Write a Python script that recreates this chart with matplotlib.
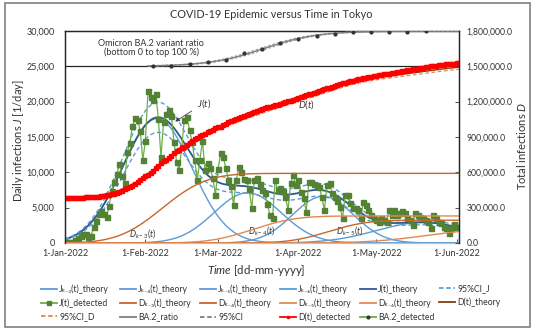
import numpy as np
import pandas as pd
import matplotlib
matplotlib.use("Agg")
import matplotlib.pyplot as plt
import matplotlib.dates as mdates
from matplotlib.lines import Line2D
from matplotlib.patches import Rectangle
from matplotlib.ticker import FuncFormatter, MultipleLocator
from math import erf, sqrt, pi

plt.rcParams['font.family'] = ['Lato', 'DejaVu Sans']
plt.rcParams['mathtext.fontset'] = 'custom'
plt.rcParams['mathtext.rm'] = 'Lato'
plt.rcParams['mathtext.it'] = 'Lato:italic'

# daily detected infections in Tokyo, from 1 Jan 2022
j_detected = [
    79, 84, 103, 151, 390, 641, 922, 1224, 1223, 871, 962, 2198, 3124, 4051, 4561, 4172,
    3709, 5185, 7377, 8638, 9699, 11227, 9468, 8503, 12813, 14086, 16538, 17631, 17433, 15895, 11751,
    14445, 21576, 20679, 20262, 21120, 17526, 12214, 17113, 18287, 18891, 18000, 14330, 11500, 10330,
    13620, 17400, 17870, 16000, 14330, 11700, 8900, 11700, 14470, 10320, 11270, 10560, 9200, 6800,
    10500, 12680, 12200, 10600, 8900, 8000, 5370, 8900, 10700, 10080, 9000, 8900, 7600, 4900,
    8900, 9150, 8300, 7500, 7030, 5500, 3960, 3490, 8900, 7500, 7800, 7300, 6500, 4670, 8440,
    9610, 8200, 8900,
    7260, 6400, 4430, 8670, 8700, 8300, 8200, 7960, 6500, 4670, 8200, 8440, 7030, 6500, 6000,
    5130, 3490, 6790, 6790, 5610, 5000, 4900, 4670, 3490, 5840, 5370, 4600, 3960, 3490, 3250,
    3020, 3490, 3250, 3000, 4670, 4000, 4670, 3960, 4200, 4500, 4200, 3490, 3300, 2545, 4200,
    4000, 3720, 3500, 3250, 3000, 2070, 3960, 3500, 3020, 2800, 2310, 2100, 1370, 2070, 2700,
    2310, 2300,
]
d_start = 384000   # total infections up to 31 Dec 2021
d_lag = 2          # days from detection to the cumulative count

# waves k-3 .. k-6: peak [1/day], day of peak (from 1 Jan), width [day]
wave_tags = ['k-3', 'k-4', 'k-5', 'k-6']
wave_sub = ['\u2096\u208b\u2083', '\u2096\u208b\u2084', '\u2096\u208b\u2085', '\u2096\u208b\u2086']
wave_peak = [17600, 7100, 6600, 2900]
wave_day = [35.5, 70.4, 99.5, 138.0]
wave_width = [13.4, 12.9, 11.7, 18.0]
ci_j = 0.12        # half width of 95%CI for J(t)
ci_d = 0.012       # half width of 95%CI for D(t)

# BA.2 share among sequenced samples, weekly
ba2_dates = pd.date_range('2022-02-04', periods=16, freq='7D')
ba2_ratio = [0.0, 0.0, 0.07, 0.11, 0.18, 0.38, 0.50, 0.67, 0.77, 0.87, 0.91, 0.96, 0.98, 0.98, 0.98, 1.0]
ba2_mid, ba2_scale, ba2_ci = 76.5, 10.3, 1.5
ba2_from = 32

t0 = pd.Timestamp('2022-01-01')
x_end = 151.9
days = pd.date_range(t0, periods=len(j_detected), freq='D')
cum = np.cumsum(j_detected)
d_detected = d_start + np.concatenate([np.zeros(d_lag), cum[:-d_lag]])

t = np.arange(0, 153.01, 0.25)
tt = t0 + pd.to_timedelta(t, unit='D')
cdf = np.vectorize(lambda z: 0.5 * (1.0 + erf(z / sqrt(2.0))))

j_k, d_k = [], []
d_theory = np.full_like(t, float(d_start))
for a, mu, s in zip(wave_peak, wave_day, wave_width):
    area = a * s * sqrt(2 * pi)
    j_k.append(a * np.exp(-0.5 * ((t - mu) / s) ** 2))
    d_k.append(area * cdf((t - mu - d_lag) / s))
    d_theory += area * (cdf((t - mu - d_lag) / s) - cdf(-mu / s))
j_theory = np.sum(j_k, axis=0)

tb = t[t >= ba2_from]
ttb = tt[t >= ba2_from]
logistic = lambda x, m: 1.0 / (1.0 + np.exp(-(x - m) / ba2_scale))

W, H = 533, 329
fig = plt.figure(figsize=(W / 100, H / 100), dpi=100)
ax = fig.add_axes([65 / W, 1 - 243 / H, 394 / W, 212 / H])
ax2 = ax.twinx()
ax3 = ax.twinx()

c_blue = '#5B9BD5'
c_navy = '#2C5A8C'
c_or1 = '#C8662A'
c_or2 = '#E08A52'
c_brown = '#843C0C'
c_green = '#548235'
c_lgreen = '#70AD47'
c_gray = '#7F7F7F'
c_txt = '#333333'

for jj in j_k:
    ax.plot(tt, jj, color=c_blue, lw=1.0)
ax.plot(tt, j_theory, color=c_navy, lw=1.3)
ax.plot(tt, j_theory * (1 + ci_j), color=c_blue, lw=1.0, ls=(0, (3, 2)))
ax.plot(tt, j_theory * (1 - ci_j), color=c_blue, lw=1.0, ls=(0, (3, 2)))
ax.plot(days, j_detected, color=c_lgreen, lw=0.9, marker='s', ms=3.6,
        mfc=c_green, mec=c_green)
ax.axhline(25000, color='#262626', lw=0.9)

for i, dd in enumerate(d_k):
    ax2.plot(tt, dd, color=c_or1 if i % 2 == 0 else c_or2, lw=1.0)
ax2.plot(tt, d_theory * (1 + ci_d), color=c_or2, lw=0.9, ls=(0, (3, 2)))
ax2.plot(tt, d_theory * (1 - ci_d), color=c_or2, lw=0.9, ls=(0, (3, 2)))
ax2.plot(tt, d_theory, color=c_brown, lw=1.0)
ax2.plot(days, d_detected, color='#FF0000', lw=1.0, marker='s', ms=2.5, mec='#FF0000', mfc='#FF0000')

ax3.plot(ttb, logistic(tb, ba2_mid - ba2_ci), color='#A5A5A5', lw=0.9, ls=(0, (2, 1.5)))
ax3.plot(ttb, logistic(tb, ba2_mid + ba2_ci), color='#A5A5A5', lw=0.9, ls=(0, (2, 1.5)))
ax3.plot(ttb, logistic(tb, ba2_mid), color=c_gray, lw=1.0)
ax3.plot(ba2_dates, ba2_ratio, ls='none', marker='o', ms=2.0, color='#333333')

ax.set_xlim(t0, t0 + pd.Timedelta(days=x_end))
ax.set_ylim(0, 30000)
ax2.set_ylim(0, 1800000)
ax3.set_ylim(-5, 1)
ax3.axis('off')

ax.yaxis.set_major_locator(MultipleLocator(5000))
ax.yaxis.set_major_formatter(FuncFormatter(lambda v, p: f'{v:,.0f}'))
ax2.yaxis.set_major_locator(MultipleLocator(300000))
ax2.yaxis.set_major_formatter(FuncFormatter(lambda v, p: f'{v:,.1f}'))
ax.xaxis.set_major_locator(mdates.MonthLocator())
ax.xaxis.set_major_formatter(FuncFormatter(
    lambda v, p: (lambda d: f"{d.day}-{d.strftime('%b')}-{d.year}")(mdates.num2date(v))))

for a in (ax, ax2):
    a.tick_params(direction='in', length=3, width=0.6, colors=c_txt, labelsize=6.5)
    for sp in a.spines.values():
        sp.set_color('#262626')
        sp.set_linewidth(0.9)
ax.tick_params(axis='y', pad=7.5)
ax.tick_params(axis='x', pad=4.5)
ax2.tick_params(labelsize=6.2, pad=5.5)
ax.spines['bottom'].set_color('#BFBFBF')
ax2.spines['bottom'].set_visible(False)

ax.annotate('$J(t)$', xy=(t0 + pd.Timedelta(days=41.6), 16970),
            xytext=(t0 + pd.Timedelta(days=53.6), 19800), ha='center', va='center',
            fontsize=7, color=c_txt,
            arrowprops=dict(arrowstyle='-|>', color='#404040', lw=0.6, mutation_scale=6, shrinkA=2))
ax.text(t0 + pd.Timedelta(days=93.3), 19600, '$D(t)$', fontsize=7, ha='center', va='center', color=c_txt)
for i, (dx, dy) in enumerate([(29.8, 1400), (75.9, 1700), (109.8, 1700)]):
    ax.text(t0 + pd.Timedelta(days=dx), dy, '$D_{%s}(t)$' % wave_tags[i],
            fontsize=6.2, ha='center', va='center', color=c_txt)

def px(x, y):
    return x / W, 1 - y / H

fig.text(*px(271, 15), 'COVID-19 Epidemic versus Time in Tokyo', ha='center', va='center',
         fontsize=7.8, color=c_txt)
fig.text(*px(151, 43), 'Omicron BA.2 variant ratio', ha='center', va='center', fontsize=6.5, color=c_txt)
fig.text(*px(152, 52.5), '(bottom 0 to top 100 %)', ha='center', va='center', fontsize=6.5, color=c_txt)
fig.text(*px(19, 141), 'Daily infections $J$ [1/day]', rotation=90, ha='center', va='center',
         fontsize=8, color=c_txt)
fig.text(*px(521, 146), 'Total infections $D$', rotation=90, ha='center', va='center',
         fontsize=8, color=c_txt)
fig.text(*px(256, 271), '$Time$ [dd-mm-yyyy]', ha='center', va='center', fontsize=8.3, color=c_txt)

# legend, laid out in fixed-width columns
def h_line(c, ls='-', lw=1.3, **kw):
    return Line2D([], [], color=c, ls=ls, lw=lw, **kw)

cols = [
    [(h_line(c_blue), f'J{wave_sub[0]}(t)_theory'),
     (h_line(c_lgreen, marker='s', ms=3, mfc=c_green, mec=c_green), 'J(t)_detected'),
     (h_line(c_or2, ls=(0, (2.5, 1.5))), '95%CI_D')],
    [(h_line(c_blue), f'J{wave_sub[1]}(t)_theory'),
     (h_line(c_or1), f'D{wave_sub[0]}(t)_theory'),
     (h_line(c_gray), 'BA.2_ratio')],
    [(h_line(c_blue), f'J{wave_sub[2]}(t)_theory'),
     (h_line(c_or1), f'D{wave_sub[1]}(t)_theory'),
     (h_line(c_gray, ls=(0, (2.5, 1.5))), '95%CI')],
    [(h_line(c_blue), f'J{wave_sub[3]}(t)_theory'),
     (h_line(c_or2), f'D{wave_sub[2]}(t)_theory'),
     (h_line('#FF0000', marker='s', ms=2), 'D(t)_detected')],
    [(h_line(c_navy), 'J(t)_theory'),
     (h_line(c_or2), f'D{wave_sub[3]}(t)_theory'),
     (h_line(c_lgreen, marker='o', ms=2, mfc='#333333', mec='#333333'), 'BA.2_detected')],
    [(h_line(c_blue, ls=(0, (2.5, 1.5))), '95%CI_J'),
     (h_line(c_brown), 'D(t)_theory')],
]
for x0, col in zip([41, 120, 200, 280, 360, 439], cols):
    hs, ls_ = zip(*col)
    fig.legend(hs, ls_, loc='upper left', bbox_to_anchor=px(x0, 284), frameon=False,
               fontsize=6.2, handlelength=1.9, handletextpad=0.2, labelspacing=0.55,
               borderpad=0, borderaxespad=0, labelcolor=c_txt)

fig.patches.append(Rectangle(px(5, 327), 525 / W, 324 / H, transform=fig.transFigure,
                             fill=False, edgecolor='#7F7F7F', lw=1.2))

fig.savefig('out.png', dpi=100)
